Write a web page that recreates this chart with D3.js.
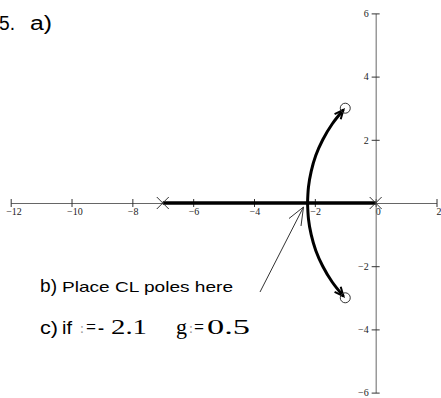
<!DOCTYPE html>
<html>
<head>
<meta charset="utf-8">
<script src="https://cdn.jsdelivr.net/npm/d3@7"></script>
<style>
  html, body { margin: 0; padding: 0; background: #fff; }
  svg { display: block; }
</style>
</head>
<body>
<svg width="441" height="398"></svg>
<script>
const svg = d3.select('svg');

// axis ticks
const xTicks = [-12, -10, -8, -6, -4, -2, 0, 2];
const yTicks = [-6, -4, -2, 2, 4, 6];

// open loop poles and zeros
const poles = [[-7, 0], [0, 0]];
const zeros = [[-1, 3], [-1, -3]];

// root locus branches
const realBranch = [[-7, 0], [0, 0]];
const upperBranch = [[-2.24, 0], [-2.21, 0.5], [-2.12, 1.0], [-1.97, 1.5], [-1.74, 2.0], [-1.43, 2.5], [-1.06, 2.95]];
const lowerBranch = [[-2.24, 0], [-2.21, -0.5], [-2.12, -1.0], [-1.97, -1.5], [-1.74, -2.0], [-1.43, -2.5], [-1.06, -2.95]];

const x = d3.scaleLinear().domain([-12, 2]).range([10.7, 436.5]);
const y = d3.scaleLinear().domain([-6, 6]).range([392.6, 13.4]);

const sans = "'Liberation Sans', Arial, sans-serif";
const serif = "'Liberation Serif', 'Times New Roman', serif";

const fmt = d => (d < 0 ? '\u2212' + Math.abs(d) : '' + d);

// x axis
const gx = svg.append('g')
  .attr('transform', `translate(0,${y(0)})`)
  .call(d3.axisBottom(x).tickValues(xTicks).tickSize(4).tickSizeOuter(0).tickFormat(fmt));
gx.select('.domain').attr('stroke', '#666');
gx.selectAll('.tick line').attr('y1', -4).attr('y2', 4).attr('stroke', '#333');
gx.selectAll('.tick text')
  .attr('y', 12).attr('dy', 0)
  .attr('x', d => d < 0 ? -5 : -0.5)
  .attr('text-anchor', 'start')
  .attr('font-family', serif)
  .attr('font-size', 10)
  .attr('fill', '#222');

// y axis
const gy = svg.append('g')
  .attr('transform', `translate(${x(0)},0)`)
  .call(d3.axisLeft(y).tickValues(yTicks).tickSize(4).tickSizeOuter(0).tickFormat(fmt));
gy.select('.domain').attr('stroke', '#666');
gy.selectAll('.tick line').attr('x1', -4).attr('x2', 4).attr('stroke', '#333');
gy.selectAll('.tick text')
  .attr('x', -7).attr('dy', '0.32em')
  .attr('font-family', serif)
  .attr('font-size', 10)
  .attr('fill', '#222');

// arrow head for the arcs
svg.append('defs').append('marker')
  .attr('id', 'arr')
  .attr('viewBox', '-10 -6 12 12')
  .attr('markerWidth', 12).attr('markerHeight', 12)
  .attr('markerUnits', 'userSpaceOnUse')
  .attr('refX', 0).attr('refY', 0)
  .attr('orient', 'auto')
  .append('path')
    .attr('d', 'M-9,-4 L0,0 L-9,4')
    .attr('fill', 'none')
    .attr('stroke', '#000')
    .attr('stroke-width', 2);

const line = d3.line().x(d => x(d[0])).y(d => y(d[1]));

svg.append('path')
  .attr('d', line(realBranch))
  .attr('stroke', '#000').attr('stroke-width', 3.5).attr('fill', 'none');

[upperBranch, lowerBranch].forEach(b => {
  svg.append('path')
    .attr('d', line.curve(d3.curveNatural)(b))
    .attr('stroke', '#000').attr('stroke-width', 3).attr('fill', 'none')
    .attr('marker-end', 'url(#arr)');
});

// poles (x)
svg.selectAll('.pole').data(poles).enter().append('path')
  .attr('class', 'pole')
  .attr('d', d => `M${x(d[0]) - 6},${y(d[1]) - 6}L${x(d[0]) + 6},${y(d[1]) + 6}M${x(d[0]) - 6},${y(d[1]) + 6}L${x(d[0]) + 6},${y(d[1]) - 6}`)
  .attr('stroke', '#333').attr('stroke-width', 1).attr('fill', 'none');

// zeros (o)
svg.selectAll('.zero').data(zeros).enter().append('circle')
  .attr('class', 'zero')
  .attr('cx', d => x(d[0])).attr('cy', d => y(d[1])).attr('r', 5)
  .attr('stroke', '#333').attr('stroke-width', 1).attr('fill', 'none');

// pointer to the breakaway point
svg.append('path')
  .attr('d', 'M260,292 L303.5,207 M289,218.5 L303.5,207 L301,226')
  .attr('stroke', '#333').attr('stroke-width', 1).attr('fill', 'none');

// texts
const label = (tx, ty, str, family, size, len, color) => {
  const t = svg.append('text')
    .attr('x', tx).attr('y', ty)
    .attr('font-family', family)
    .attr('font-size', size)
    .attr('fill', color || '#000')
    .text(str);
  if (len) t.attr('textLength', len).attr('lengthAdjust', 'spacingAndGlyphs');
  return t;
};

label(-1, 30, '5.', sans, 20, 16);
label(30, 30, 'a)', sans, 20, 22);

label(40, 292, 'b)', sans, 18, 17);
label(62, 292, 'Place CL poles here', sans, 15, 171);

label(40, 334, 'c)', sans, 19, 18);
label(62, 334, 'if', sans, 19, 10);
label(80, 333, ':', serif, 14, null, '#999');
label(86, 334, '=', serif, 20, 10);
label(98, 334, '-', serif, 20, 6);
label(111, 334, '2.1', serif, 22, 36);
label(176, 334, 'g', serif, 22, 11);
label(189, 333, ':', serif, 14, null, '#999');
label(194, 334, '=', serif, 20, 10);
label(207, 334, '0.5', serif, 22, 43);
</script>
</body>
</html>
